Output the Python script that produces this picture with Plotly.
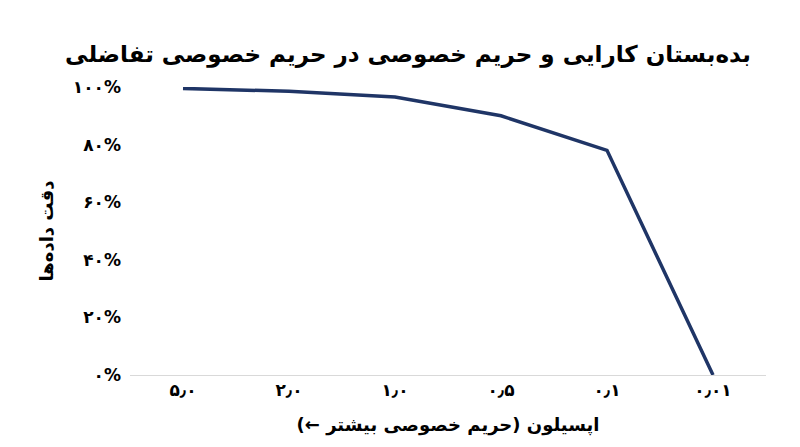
import plotly.graph_objects as go

categories = ["۵٫۰", "۲٫۰", "۱٫۰", "۰٫۵", "۰٫۱", "۰٫۰۱"]
accuracy = [99.5, 98.5, 96.5, 90, 78, 0]
tick_vals = [0, 20, 40, 60, 80, 100]
tick_text = ["<b>۰%</b>", "<b>۲۰%</b>", "<b>۴۰%</b>", "<b>۶۰%</b>", "<b>۸۰%</b>", "<b>۱۰۰%</b>"]

fig = go.Figure(go.Scatter(
    x=categories, y=accuracy, mode="lines",
    line=dict(color="#1f3566", width=3.5),
))
fig.update_layout(
    width=800, height=447,
    paper_bgcolor="white", plot_bgcolor="white",
    font=dict(family="DejaVu Sans", color="black", size=16),
    title=dict(text="<b>بده‌بستان کارایی و حریم خصوصی در حریم خصوصی تفاضلی</b>",
               x=0.5, y=0.915, xanchor="center", font=dict(size=23)),
    margin=dict(l=122, r=42, t=79, b=80, autoexpand=False),
    showlegend=False,
)
fig.update_xaxes(
    type="category", range=[-0.5, 5.5], showgrid=False, showline=True,
    linecolor="#d9d9d9", linewidth=1, ticks="", automargin=False,
    tickvals=categories, ticktext=[f"<b>{c}</b>" for c in categories],
    tickfont=dict(size=17),
    title=dict(text="<b>اپسیلون (حریم خصوصی بیشتر ←)</b>", font=dict(size=18), standoff=18),
)
fig.update_yaxes(
    range=[0, 100], tickvals=tick_vals, ticktext=tick_text, automargin=False,
    showgrid=False, zeroline=False, showline=False, ticks="",
    tickfont=dict(size=17), ticklabelstandoff=8,
    title=dict(text="<b>دقت داده‌ها</b>", font=dict(size=18), standoff=14),
)
fig.write_html("out.html")
